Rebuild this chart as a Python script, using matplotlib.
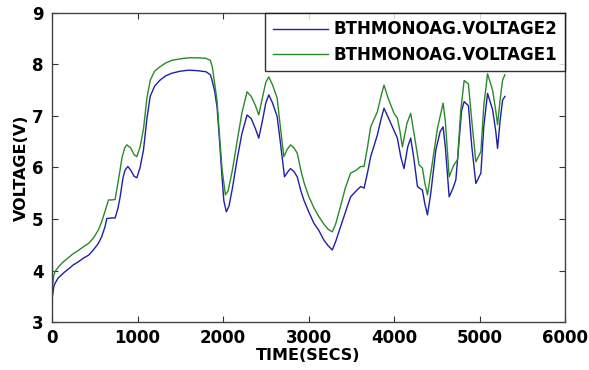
import matplotlib
matplotlib.use("Agg")
import matplotlib.pyplot as plt

# Battery monitor voltage logs (time in seconds, voltage in volts)
t_v2 = [0, 10, 20, 35, 70, 133, 200, 250, 300, 367, 430, 484, 540, 582, 620, 641, 700, 738,
        770, 797, 830, 855, 887, 920, 960, 992, 1030, 1070, 1110, 1148, 1200, 1266, 1330,
        1400, 1500, 1600, 1700, 1800, 1852, 1871, 1900, 1930, 1960, 1988, 2010, 2039, 2070,
        2110, 2164, 2220, 2281, 2330, 2380, 2418, 2460, 2500, 2535, 2580, 2633, 2670, 2719,
        2760, 2789, 2830, 2868, 2910, 2945, 3000, 3062, 3120, 3180, 3230, 3278, 3317, 3375,
        3453, 3492, 3560, 3610, 3650, 3690, 3727, 3805, 3850, 3883, 3930, 3981, 4039, 4080,
        4117, 4160, 4195, 4230, 4274, 4332, 4360, 4391, 4430, 4489, 4540, 4574, 4600, 4645,
        4690, 4723, 4760, 4790, 4820, 4870, 4910, 4957, 5016, 5050, 5094, 5153, 5190, 5211,
        5240, 5270, 5297]
voltage2 = [3.45, 3.55, 3.68, 3.75, 3.85, 3.95, 4.04, 4.11, 4.16, 4.24, 4.30, 4.40, 4.52,
            4.66, 4.85, 5.01, 5.02, 5.02, 5.20, 5.43, 5.80, 5.95, 6.02, 5.95, 5.83, 5.80,
            6.00, 6.34, 6.95, 7.38, 7.58, 7.70, 7.78, 7.83, 7.87, 7.89, 7.88, 7.86, 7.80,
            7.70, 7.50, 7.18, 6.50, 5.82, 5.35, 5.14, 5.25, 5.60, 6.15, 6.65, 7.02, 6.95,
            6.75, 6.57, 6.90, 7.25, 7.41, 7.25, 6.99, 6.50, 5.82, 5.92, 5.98, 5.92, 5.82,
            5.55, 5.37, 5.15, 4.92, 4.78, 4.59, 4.48, 4.40, 4.56, 4.85, 5.24, 5.43, 5.55,
            5.63, 5.60, 5.90, 6.21, 6.63, 6.95, 7.15, 6.98, 6.79, 6.57, 6.20, 5.98, 6.40,
            6.57, 6.20, 5.63, 5.56, 5.30, 5.08, 5.50, 6.34, 6.70, 6.79, 6.40, 5.43, 5.60,
            5.76, 6.50, 7.10, 7.28, 7.20, 6.40, 5.69, 5.89, 6.80, 7.44, 7.12, 6.70, 6.37,
            6.90, 7.31, 7.38]

t_v1 = [0, 10, 20, 35, 80, 133, 200, 250, 300, 367, 430, 484, 540, 582, 620, 660, 700, 738,
        777, 820, 850, 875, 920, 960, 992, 1030, 1070, 1110, 1150, 1200, 1266, 1330, 1400,
        1500, 1600, 1700, 1800, 1852, 1875, 1905, 1930, 1960, 1990, 2028, 2060, 2110, 2164,
        2220, 2281, 2330, 2380, 2418, 2460, 2500, 2535, 2580, 2633, 2670, 2711, 2750, 2789,
        2830, 2868, 2910, 2945, 3000, 3062, 3120, 3180, 3230, 3278, 3317, 3375, 3430, 3492,
        3560, 3610, 3650, 3690, 3727, 3805, 3850, 3883, 3930, 4000, 4039, 4070, 4098, 4150,
        4195, 4240, 4293, 4332, 4360, 4391, 4440, 4508, 4574, 4600, 4645, 4700, 4743, 4780,
        4820, 4870, 4910, 4957, 5016, 5050, 5094, 5153, 5190, 5211, 5240, 5270, 5297]
voltage1 = [3.60, 3.75, 3.90, 3.98, 4.08, 4.17, 4.26, 4.33, 4.38, 4.46, 4.53, 4.63, 4.78,
            4.95, 5.15, 5.37, 5.37, 5.38, 5.76, 6.20, 6.38, 6.44, 6.38, 6.25, 6.21, 6.40,
            6.75, 7.35, 7.70, 7.87, 7.96, 8.03, 8.08, 8.11, 8.13, 8.13, 8.12, 8.08, 7.95,
            7.60, 7.30, 6.60, 5.95, 5.47, 5.55, 5.95, 6.50, 7.05, 7.47, 7.38, 7.20, 7.02,
            7.35, 7.65, 7.76, 7.60, 7.35, 6.80, 6.21, 6.35, 6.44, 6.38, 6.28, 5.95, 5.72,
            5.45, 5.22, 5.05, 4.90, 4.80, 4.75, 4.90, 5.25, 5.60, 5.89, 5.95, 6.02, 6.02,
            6.40, 6.79, 7.08, 7.40, 7.60, 7.35, 7.05, 6.96, 6.70, 6.40, 6.85, 7.05, 6.60,
            6.05, 5.99, 5.70, 5.47, 6.00, 6.76, 7.25, 6.90, 5.82, 6.05, 6.15, 7.10, 7.69,
            7.62, 6.90, 6.11, 6.31, 7.20, 7.82, 7.50, 7.10, 6.83, 7.30, 7.70, 7.80]

labels = ["BTHMONOAG.VOLTAGE2", "BTHMONOAG.VOLTAGE1"]
x_ticks = [0, 1000, 2000, 3000, 4000, 5000, 6000]
y_ticks = [3, 4, 5, 6, 7, 8, 9]

fig = plt.figure(figsize=(5.89, 3.70), dpi=100)
ax = fig.add_axes([0.0883, 0.1297, 0.871, 0.8352])

ax.plot(t_v2, voltage2, color="#1f1fa8", lw=1.0, label=labels[0])
ax.plot(t_v1, voltage1, color="#2a8a2a", lw=1.0, label=labels[1])

ax.set_xlim(0, 6000)
ax.set_ylim(3, 9)
ax.set_xticks(x_ticks)
ax.set_yticks(y_ticks)
ax.tick_params(direction="in", top=True, right=True, length=4, width=0.8,
               labelsize=12, colors="#333333", labelcolor="black")
ax.tick_params(axis="x", pad=5)
ax.tick_params(axis="y", pad=6)
for lab in ax.get_xticklabels() + ax.get_yticklabels():
    lab.set_fontweight("bold")
for sp in ax.spines.values():
    sp.set_color("#444444")
    sp.set_linewidth(1.0)

ax.set_xlabel("TIME(SECS)", fontsize=11.5, fontweight="bold")
ax.xaxis.set_label_coords(0.5, -0.083)
ax.set_ylabel("VOLTAGE(V)", fontsize=11.5, fontweight="bold", labelpad=2)

leg = ax.legend(loc="upper right", frameon=True, fancybox=False,
                borderaxespad=0, handlelength=3.3, handletextpad=0.35,
                borderpad=0.45, labelspacing=0.45, edgecolor="black",
                prop={"weight": "bold", "size": 12})
leg.get_frame().set_linewidth(1.0)

fig.savefig("out.png", dpi=100)
